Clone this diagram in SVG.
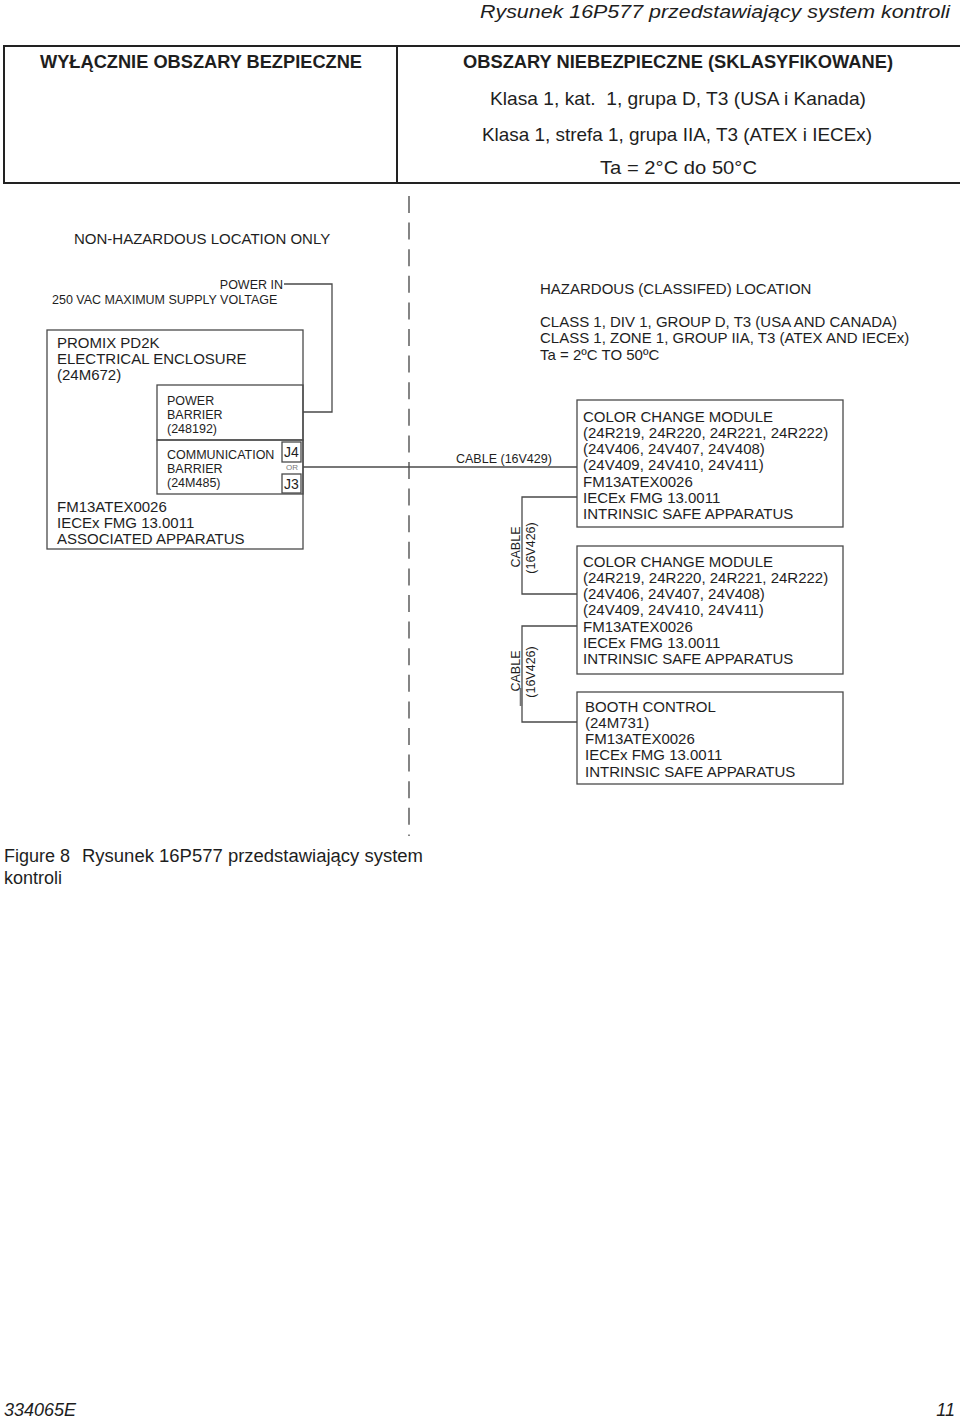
<svg xmlns="http://www.w3.org/2000/svg" width="960" height="1419" viewBox="0 0 960 1419">
<style>
text{font-family:"Liberation Sans",Arial,sans-serif;fill:#1e1e1e}
.hdr{font-weight:bold;font-size:18.5px}
.kl{font-size:18.5px}
.it{font-style:italic}
.t15{font-size:15px}
.t125{font-size:12.5px}
.box{fill:none;stroke:#4a4a4a;stroke-width:1.3}
.ln{fill:none;stroke:#4a4a4a;stroke-width:1.3}
</style>
<rect width="960" height="1419" fill="#fff"/>

<text class="it" x="950" y="18" font-size="19" text-anchor="end" textLength="470" lengthAdjust="spacingAndGlyphs">Rysunek 16P577 przedstawiający system kontroli</text>

<g id="header">
<rect x="4" y="46" width="960" height="137" fill="none" stroke="#222" stroke-width="2"/>
<line x1="397" y1="46" x2="397" y2="183" stroke="#222" stroke-width="2"/>
<text class="hdr" x="40" y="68" textLength="322" lengthAdjust="spacingAndGlyphs">WYŁĄCZNIE OBSZARY BEZPIECZNE</text>
<text class="hdr" x="463" y="68" textLength="430" lengthAdjust="spacingAndGlyphs">OBSZARY NIEBEZPIECZNE (SKLASYFIKOWANE)</text>
<text class="kl" x="490" y="104.5" xml:space="preserve" textLength="376" lengthAdjust="spacingAndGlyphs">Klasa 1, kat.  1, grupa D, T3 (USA i Kanada)</text>
<text class="kl" x="482" y="140.5" textLength="390" lengthAdjust="spacingAndGlyphs">Klasa 1, strefa 1, grupa IIA, T3 (ATEX i IECEx)</text>
<text class="kl" x="600" y="173.5" textLength="157" lengthAdjust="spacingAndGlyphs">Ta = 2°C do 50°C</text>
</g>

<g id="divider">
<line x1="409" y1="196" x2="409" y2="836" stroke="#444" stroke-width="1.3" stroke-dasharray="17 9.6"/>
</g>

<g id="labels">
<text class="t15" x="74" y="243.5">NON-HAZARDOUS LOCATION ONLY</text>
<text class="t125" x="283" y="288.5" text-anchor="end">POWER IN</text>
<text class="t125" x="52" y="303.5">250 VAC MAXIMUM SUPPLY VOLTAGE</text>
<text class="t15" x="540" y="293.5">HAZARDOUS (CLASSIFED) LOCATION</text>
<text class="t15" x="540" y="326.5">CLASS 1, DIV 1, GROUP D, T3 (USA AND CANADA)</text>
<text class="t15" x="540" y="343">CLASS 1, ZONE 1, GROUP IIA, T3 (ATEX AND IECEx)</text>
<text class="t15" x="540" y="359.5">Ta = 2ºC TO 50ºC</text>
</g>

<g id="enclosure">
<rect class="box" x="47" y="330" width="256" height="219"/>
<text class="t15" x="57" y="347.5">PROMIX PD2K</text>
<text class="t15" x="57" y="363.5">ELECTRICAL ENCLOSURE</text>
<text class="t15" x="57" y="379.5">(24M672)</text>
<text class="t15" x="57" y="511.5">FM13ATEX0026</text>
<text class="t15" x="57" y="527.5">IECEx FMG 13.0011</text>
<text class="t15" x="57" y="544">ASSOCIATED APPARATUS</text>
</g>

<g id="power-barrier">
<rect class="box" x="157" y="385" width="146" height="55"/>
<text class="t125" x="167" y="404.5">POWER</text>
<text class="t125" x="167" y="418.5">BARRIER</text>
<text class="t125" x="167" y="432.5">(248192)</text>
</g>

<g id="comm-barrier">
<rect class="box" x="157" y="440" width="146" height="54"/>
<text class="t125" x="167" y="458.5">COMMUNICATION</text>
<text class="t125" x="167" y="472.5">BARRIER</text>
<text class="t125" x="167" y="486.5">(24M485)</text>
<rect class="box" x="282" y="442" width="19" height="20"/>
<text x="291.5" y="457" font-size="14" text-anchor="middle">J4</text>
<text x="292" y="470" font-size="8" text-anchor="middle" style="fill:#777">OR</text>
<rect class="box" x="282" y="474" width="19" height="19"/>
<text x="291.5" y="489" font-size="14" text-anchor="middle">J3</text>
</g>

<g id="ccm1">
<rect class="box" x="577" y="400" width="266" height="127"/>
<text class="t15" x="583" y="421.5">COLOR CHANGE MODULE</text>
<text class="t15" x="583" y="437.8">(24R219, 24R220, 24R221, 24R222)</text>
<text class="t15" x="583" y="454.1">(24V406, 24V407, 24V408)</text>
<text class="t15" x="583" y="470.4">(24V409, 24V410, 24V411)</text>
<text class="t15" x="583" y="486.7">FM13ATEX0026</text>
<text class="t15" x="583" y="503">IECEx FMG 13.0011</text>
<text class="t15" x="583" y="519.3">INTRINSIC SAFE APPARATUS</text>
</g>

<g id="ccm2">
<rect class="box" x="577" y="546" width="266" height="128"/>
<text class="t15" x="583" y="566.5">COLOR CHANGE MODULE</text>
<text class="t15" x="583" y="582.8">(24R219, 24R220, 24R221, 24R222)</text>
<text class="t15" x="583" y="599.1">(24V406, 24V407, 24V408)</text>
<text class="t15" x="583" y="615.4">(24V409, 24V410, 24V411)</text>
<text class="t15" x="583" y="631.7">FM13ATEX0026</text>
<text class="t15" x="583" y="648">IECEx FMG 13.0011</text>
<text class="t15" x="583" y="664.3">INTRINSIC SAFE APPARATUS</text>
</g>

<g id="booth">
<rect class="box" x="577" y="692" width="266" height="92"/>
<text class="t15" x="585" y="711.5">BOOTH CONTROL</text>
<text class="t15" x="585" y="727.8">(24M731)</text>
<text class="t15" x="585" y="744.1">FM13ATEX0026</text>
<text class="t15" x="585" y="760.4">IECEx FMG 13.0011</text>
<text class="t15" x="585" y="776.7">INTRINSIC SAFE APPARATUS</text>
</g>

<g id="connectors">
<path class="ln" d="M284,284 H332 V412 H303"/>
<path class="ln" d="M303,467 H577"/>
<path class="ln" d="M577,497 H522 V594 H577"/>
<path class="ln" d="M577,626 H522 V722 H577"/>
<line x1="521" y1="688" x2="521" y2="706" stroke="#777" stroke-width="2.6"/>
<text class="t125" x="456" y="462.5">CABLE (16V429)</text>
<text class="t125" transform="translate(520,547) rotate(-90)" text-anchor="middle">CABLE</text>
<text class="t125" transform="translate(535,548) rotate(-90)" text-anchor="middle">(16V426)</text>
<text class="t125" transform="translate(520,671) rotate(-90)" text-anchor="middle">CABLE</text>
<text class="t125" transform="translate(535,672) rotate(-90)" text-anchor="middle">(16V426)</text>
</g>

<g id="caption">
<text x="4" y="861.5" font-size="18">Figure 8</text>
<text x="82" y="861.5" font-size="18" textLength="341" lengthAdjust="spacingAndGlyphs">Rysunek 16P577 przedstawiający system</text>
<text x="4" y="883.5" font-size="18">kontroli</text>
</g>

<text class="it" x="4" y="1416" font-size="18">334065E</text>
<text class="it" x="955" y="1416" font-size="18" text-anchor="end">11</text>
</svg>
